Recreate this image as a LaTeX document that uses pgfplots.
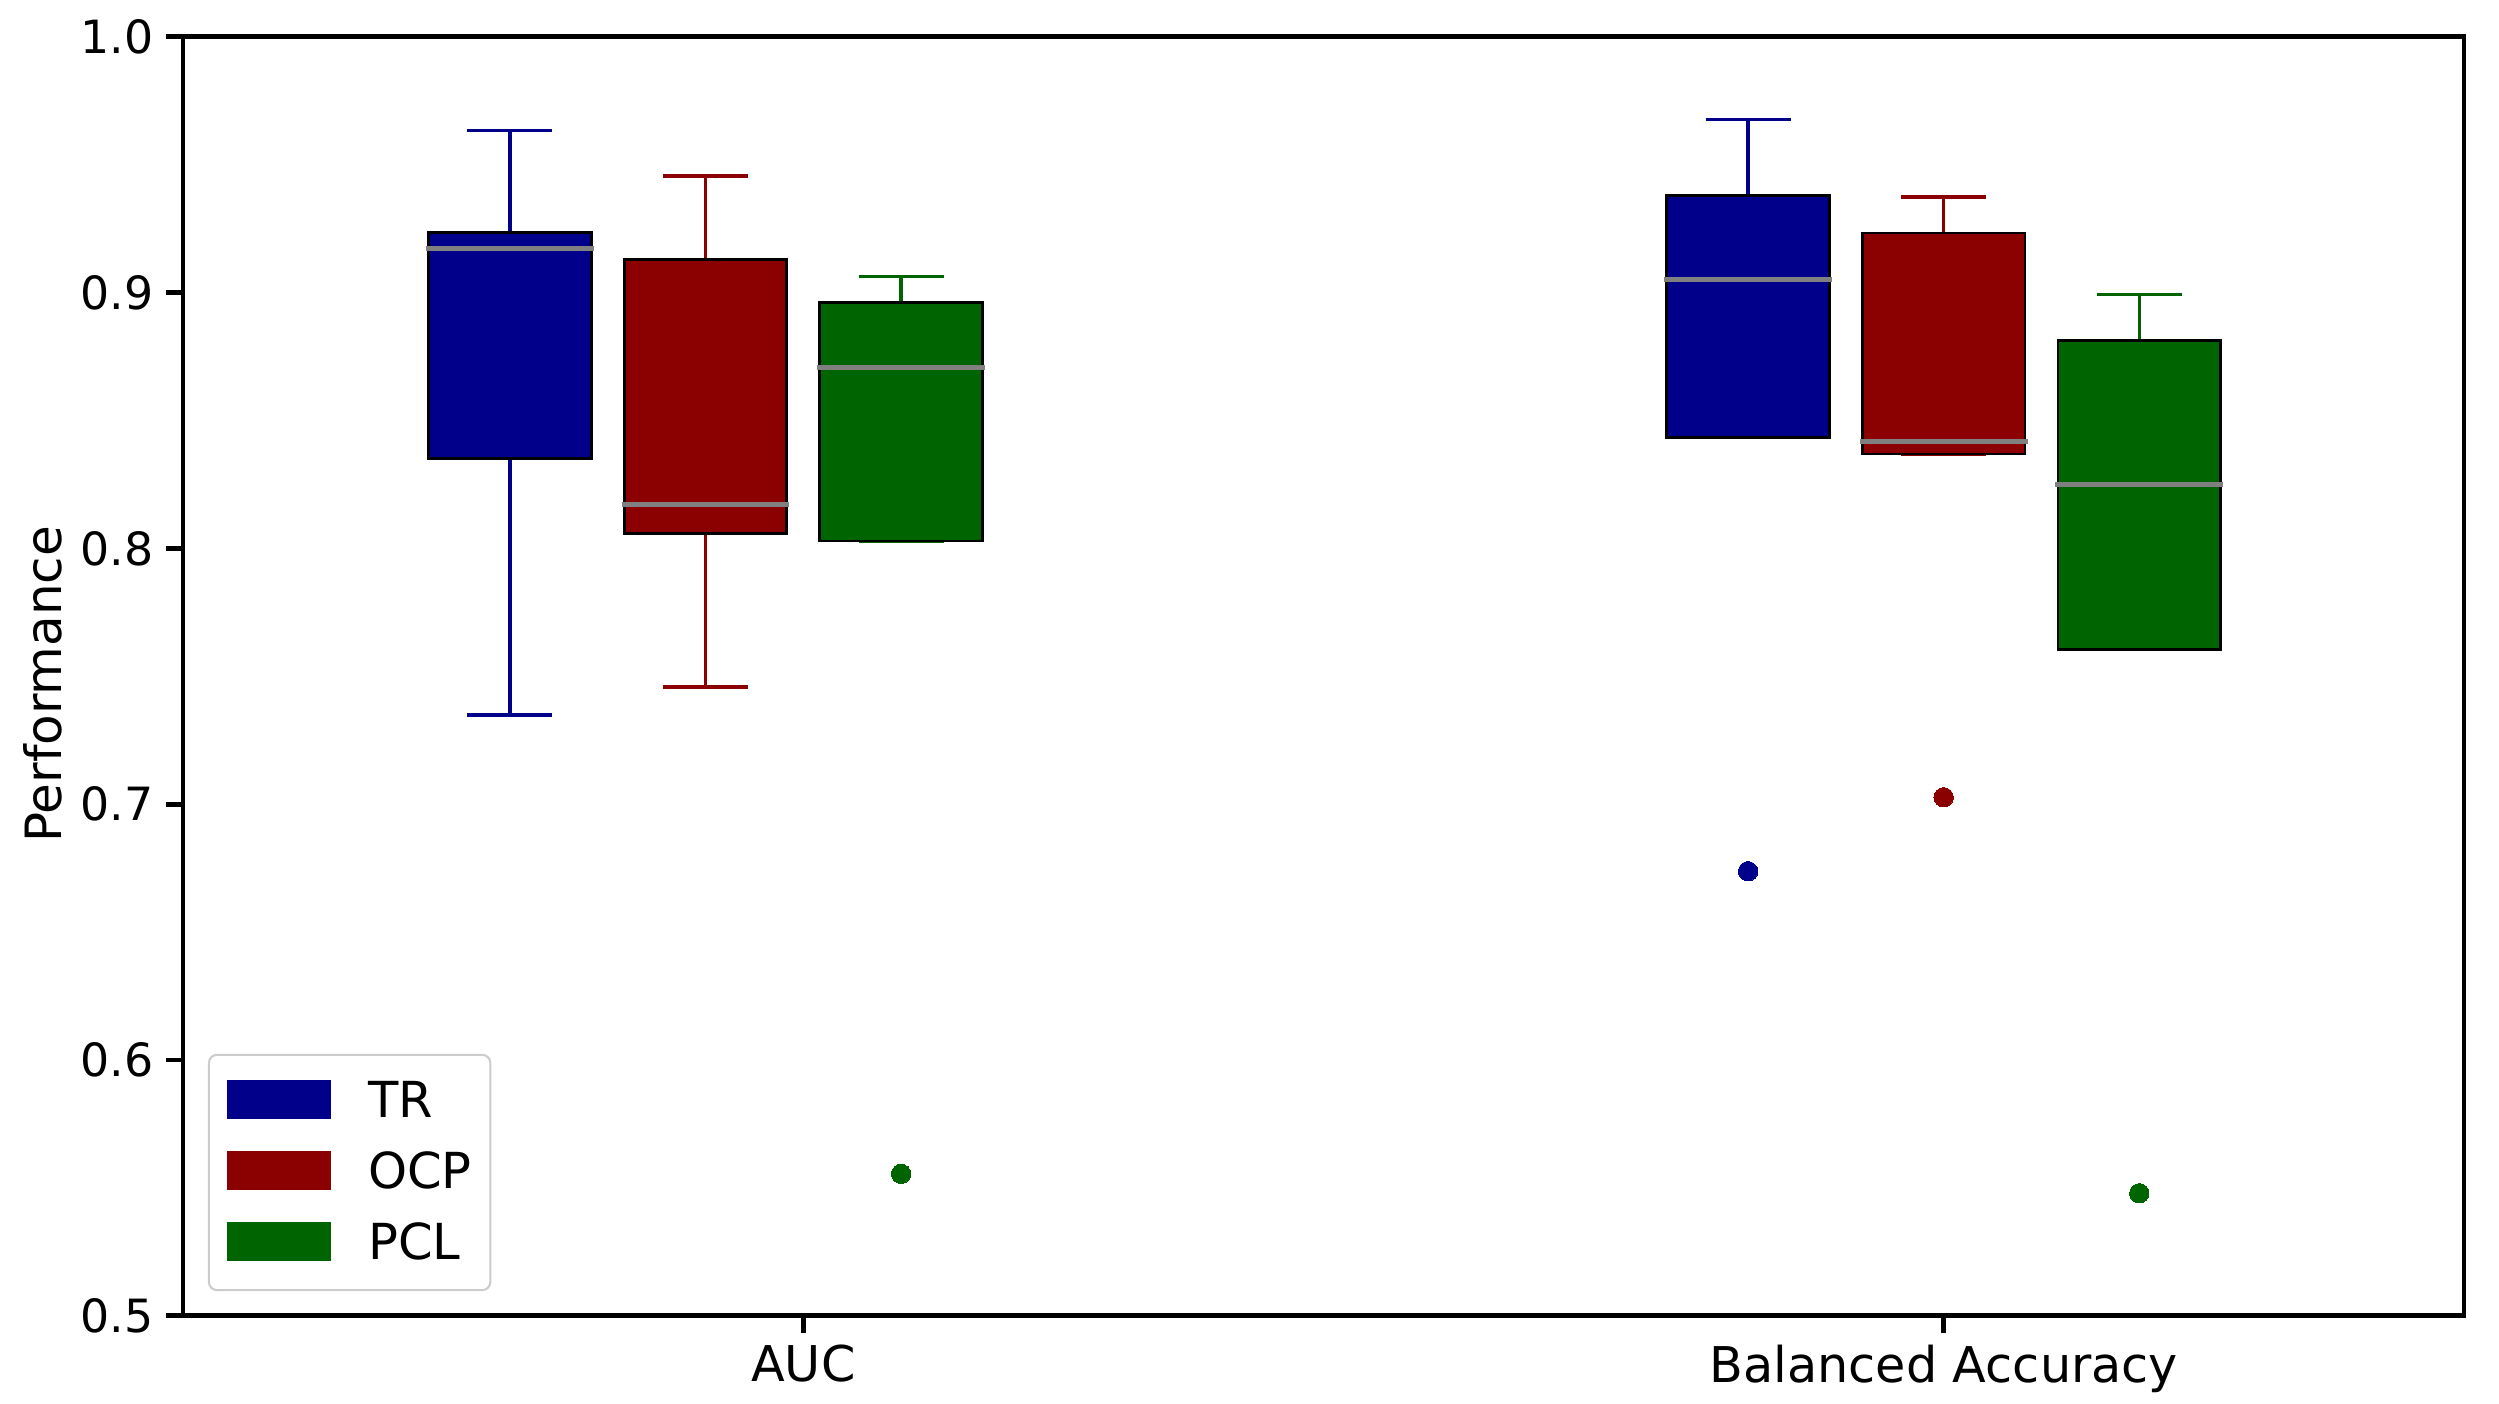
\documentclass[border=0pt]{standalone}
\usepackage{fontspec}
\setmainfont{DejaVu Sans}
\usepackage{pgfplots}
\pgfplotsset{compat=1.18}
\usepgfplotslibrary{statistics}

\definecolor{trcol}{HTML}{00008B}
\definecolor{ocpcol}{HTML}{8B0000}
\definecolor{pclcol}{HTML}{006400}
\definecolor{medcol}{HTML}{808080}
\definecolor{legframe}{HTML}{CCCCCC}

\pgfplotsset{
  mybox/.style={#1, line width=1pt, solid, forget plot,
    boxplot/draw direction=y,
    boxplot/box extend=0.831, boxplot/whisker extend=0.435,
    boxplot/every box/.style={draw=black, fill=#1, line width=0.8pt},
    boxplot/every median/.style={draw=medcol, line width=1.5pt, line cap=rect},
    mark=*, mark size=2.8pt, mark options={draw=#1, fill=#1, line width=0pt}},
  legpatch/.style={#1, legend image code/.code={\fill[sharp corners] (0pt,-4.6pt) rectangle (29.4pt,5.9pt);}},
}

\begin{document}
\begin{tikzpicture}
\begin{axis}[name=ax, scale only axis,
  width=657.2pt, height=368.5pt,
  xmin=-1.672, xmax=9.990, ymin=0.5, ymax=1.0,
  xtick={1.5,7.33}, xticklabels={AUC, Balanced Accuracy},
  ytick={0.5,0.6,0.7,0.8,0.9,1.0},
  yticklabels={0.5,0.6,0.7,0.8,0.9,1.0},
  tick align=outside, xtick pos=bottom, ytick pos=left,
  major tick length=4.9pt,
  every tick/.style={black, line width=1.4pt},
  axis line style={line width=1.35pt, line cap=rect},
  yticklabel style={font=\fontsize{13.2}{15}\selectfont},
  xticklabel style={font=\fontsize{14.2}{17}\selectfont},
  ylabel={Performance},
  every axis y label/.style={at={(rel axis cs:0,0.5)}, xshift=-34.9pt, yshift=-2.3pt,
    rotate=90, anchor=base, font=\fontsize{14.4}{17}\selectfont},
  legend style={at={(0,0)}, anchor=south west, xshift=7.5pt, yshift=7.4pt,
    draw=legframe, line width=0.6pt, rounded corners=2.3pt,
    inner xsep=5.3pt, inner ysep=7.35pt, row sep=8.2pt, column sep=10.6pt,
    font=\fontsize{14.3}{17}\selectfont, nodes={inner sep=0pt}, outer sep=0pt},
  legend cell align=left,
]

% AUC
\addplot[mybox=trcol, boxplot prepared={draw position=0,
  lower whisker=0.7348, lower quartile=0.8351, median=0.9171,
  upper quartile=0.9236, upper whisker=0.9634}] coordinates {};
\addplot[mybox=ocpcol, boxplot prepared={draw position=1,
  lower whisker=0.7459, lower quartile=0.8058, median=0.8172,
  upper quartile=0.9128, upper whisker=0.9456}] coordinates {};
\addplot[mybox=pclcol, boxplot prepared={draw position=2,
  lower whisker=0.8029, lower quartile=0.8029, median=0.8707,
  upper quartile=0.8962, upper whisker=0.9063}]
  table[row sep=\\, y index=0] {y\\ 0.5555\\};

% Balanced Accuracy
\addplot[mybox=trcol, boxplot prepared={draw position=6.33,
  lower whisker=0.8433, lower quartile=0.8433, median=0.9051,
  upper quartile=0.9381, upper whisker=0.9676}]
  table[row sep=\\, y index=0] {y\\ 0.6738\\};
\addplot[mybox=ocpcol, boxplot prepared={draw position=7.33,
  lower whisker=0.8369, lower quartile=0.8369, median=0.8417,
  upper quartile=0.9233, upper whisker=0.9374}]
  table[row sep=\\, y index=0] {y\\ 0.7027\\};
\addplot[mybox=pclcol, boxplot prepared={draw position=8.33,
  lower whisker=0.7604, lower quartile=0.7604, median=0.8250,
  upper quartile=0.8814, upper whisker=0.8992}]
  table[row sep=\\, y index=0] {y\\ 0.5479\\};

\addlegendimage{legpatch=trcol}
\addlegendentry{TR}
\addlegendimage{legpatch=ocpcol}
\addlegendentry{OCP}
\addlegendimage{legpatch=pclcol}
\addlegendentry{PCL}
\end{axis}
\pgfresetboundingbox
\path[use as bounding box] ([xshift=-52.7pt, yshift=-25.4pt]ax.south west)
  rectangle ([xshift=10.1pt, yshift=10.6pt]ax.north east);
\end{tikzpicture}
\end{document}
